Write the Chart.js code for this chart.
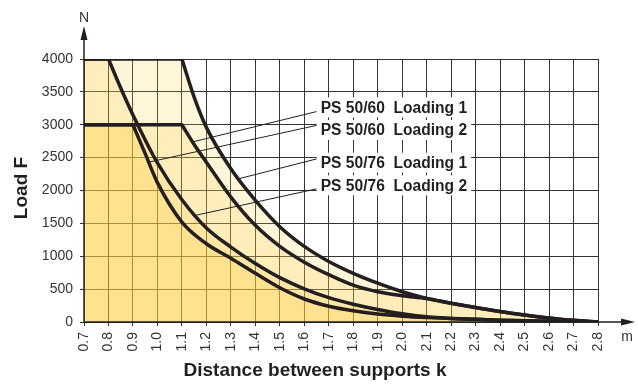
<!DOCTYPE html>
<html>
<head>
<meta charset="utf-8">
<script src="https://cdn.jsdelivr.net/npm/chart.js@4.4.1/dist/chart.umd.min.js"></script>
<style>
  html, body { margin:0; padding:0; background:#fff; }
  #wrap { width:638px; height:384px; }
</style>
</head>
<body>
<div id="wrap"><canvas id="chart" width="638" height="384"></canvas></div>
<script>
// ---- data (k in m, F in N) ----
// each curve: flat part from 0.7 to the corner, then falling
const k5076L1 = [0.7, 1.1, 1.15, 1.2, 1.3, 1.4, 1.5, 1.6, 1.7, 1.8, 1.9, 2.0, 2.1, 2.2, 2.3, 2.4, 2.5, 2.6, 2.7, 2.8];
const F5076L1 = [4000, 4000, 3420, 2960, 2330, 1850, 1450, 1150, 920, 740, 590, 460, 360, 285, 220, 160, 108, 62, 25, 0];

const k5060L1 = [0.7, 1.1, 1.15, 1.2, 1.3, 1.4, 1.5, 1.6, 1.7, 1.8, 1.9, 2.0, 2.1, 2.2, 2.3, 2.4, 2.5, 2.6, 2.7, 2.8];
const F5060L1 = [3000, 3000, 2700, 2430, 1900, 1470, 1150, 910, 720, 560, 460, 400, 358, 285, 220, 160, 108, 62, 25, 0];

const k5076L2 = [0.7, 0.8, 0.85, 0.9, 1.0, 1.1, 1.2, 1.3, 1.4, 1.5, 1.6, 1.7, 1.8, 1.9, 2.0, 2.1, 2.2, 2.3, 2.4, 2.5, 2.6, 2.7, 2.8];
const F5076L2 = [4000, 4000, 3560, 3150, 2420, 1860, 1430, 1140, 890, 675, 505, 370, 270, 190, 125, 80, 55, 40, 28, 18, 10, 4, 0];

const k5060L2 = [0.7, 0.9, 0.95, 1.0, 1.1, 1.2, 1.3, 1.4, 1.5, 1.6, 1.7, 1.8, 1.9, 2.0, 2.1, 2.2, 2.3, 2.4, 2.5, 2.6, 2.7, 2.8];
const F5060L2 = [3000, 3000, 2560, 2120, 1520, 1190, 970, 740, 520, 350, 240, 170, 120, 88, 68, 55, 40, 28, 18, 10, 4, 0];

const seriesNames = ['PS 50/60  Loading 1', 'PS 50/60  Loading 2', 'PS 50/76  Loading 1', 'PS 50/76  Loading 2'];

// ---- label / leader placement (data units) ----
const labelPos  = [[1.667, 3265], [1.667, 2920], [1.667, 2423], [1.667, 2079]];
const leaderFrom = [[1.65, 3200], [1.65, 2990], [1.65, 2480], [1.65, 2025]];
const leaderTo   = [[1.145, 2740], [0.963, 2430], [1.334, 2180], [1.153, 1620]];

const INK = '#231f20';
const FILL = 'rgba(255,205,64,0.2)';

function pts(ks, fs, from, to) {
  const out = [];
  for (let i = from; i < to; i++) out.push({x: ks[i], y: fs[i]});
  return out;
}

// flat part (straight) + curved part (monotone), both filled to zero
function curve(name, ks, fs) {
  return [
    { label: name + ' flat', data: pts(ks, fs, 0, 2), borderColor: INK, borderWidth: 3.5,
      backgroundColor: FILL, fill: 'origin', tension: 0, pointRadius: 0, borderCapStyle: 'round' },
    { label: name, data: pts(ks, fs, 1, ks.length), borderColor: INK, borderWidth: 3.5,
      backgroundColor: FILL, fill: 'origin', cubicInterpolationMode: 'monotone', pointRadius: 0,
      borderJoinStyle: 'round' }
  ];
}

const datasets = [].concat(
  curve(seriesNames[2], k5076L1, F5076L1),
  curve(seriesNames[3], k5076L2, F5076L2),
  curve(seriesNames[0], k5060L1, F5060L1),
  curve(seriesNames[1], k5060L2, F5060L2)
);

// ---- extra drawing: axes with arrows, titles, labels ----
const overlay = {
  id: 'overlay',
  afterDatasetsDraw(chart) {
    const {ctx, scales: {x, y}} = chart;
    ctx.save();
    ctx.font = 'bold 15.6px "Liberation Sans", Arial, sans-serif';
    ctx.textBaseline = 'middle';
    ctx.textAlign = 'left';
    seriesNames.forEach((t, i) => {
      const px = x.getPixelForValue(labelPos[i][0]);
      const py = y.getPixelForValue(labelPos[i][1]);
      const w = ctx.measureText(t).width;
      ctx.fillStyle = '#fff';
      ctx.fillRect(px - 4, py - 10, w + 8, 20);
      ctx.fillStyle = INK;
      ctx.fillText(t, px, py + 1);
      ctx.strokeStyle = INK;
      ctx.lineWidth = 1;
      ctx.beginPath();
      ctx.moveTo(x.getPixelForValue(leaderFrom[i][0]), y.getPixelForValue(leaderFrom[i][1]));
      ctx.lineTo(x.getPixelForValue(leaderTo[i][0]), y.getPixelForValue(leaderTo[i][1]));
      ctx.stroke();
    });
    ctx.restore();
  },
  afterDraw(chart) {
    const {ctx, chartArea: a} = chart;
    ctx.save();
    ctx.strokeStyle = INK;
    ctx.fillStyle = INK;
    ctx.lineWidth = 1.5;
    // y axis
    ctx.beginPath();
    ctx.moveTo(a.left, a.bottom);
    ctx.lineTo(a.left, 38);
    ctx.stroke();
    ctx.beginPath();
    ctx.moveTo(a.left, 26);
    ctx.lineTo(a.left - 3.5, 40);
    ctx.lineTo(a.left + 3.5, 40);
    ctx.closePath();
    ctx.fill();
    // x axis
    ctx.beginPath();
    ctx.moveTo(a.left, a.bottom);
    ctx.lineTo(622, a.bottom);
    ctx.stroke();
    ctx.beginPath();
    ctx.moveTo(635, a.bottom);
    ctx.lineTo(621, a.bottom - 3.5);
    ctx.lineTo(621, a.bottom + 3.5);
    ctx.closePath();
    ctx.fill();

    ctx.fillStyle = '#333';
    ctx.font = '14px "Liberation Sans", Arial, sans-serif';
    ctx.textAlign = 'center';
    ctx.textBaseline = 'middle';
    ctx.fillText('N', a.left, 18);
    ctx.fillText('m', 627, 337);

    ctx.fillStyle = INK;
    ctx.font = 'bold 19px "Liberation Sans", Arial, sans-serif';
    ctx.fillText('Distance between supports k', 315, 371);
    ctx.translate(22, 188);
    ctx.rotate(-Math.PI / 2);
    ctx.fillText('Load F', 0, 0);
    ctx.restore();
  }
};

new Chart(document.getElementById('chart'), {
  type: 'line',
  data: { datasets },
  options: {
    responsive: false,
    animation: false,
    devicePixelRatio: 1,
    layout: { padding: { top: 59, right: 40, bottom: 0, left: 0 } },
    plugins: {
      legend: { display: false },
      tooltip: { enabled: false },
      filler: { drawTime: 'beforeDatasetsDraw' }
    },
    scales: {
      x: {
        type: 'linear', min: 0.7, max: 2.8,
        afterFit: s => { s.height = 62; },
        border: { display: false },
        grid: { color: '#333', lineWidth: 1, tickLength: 4, tickColor: '#333' },
        ticks: {
          stepSize: 0.1, autoSkip: false, minRotation: 90, maxRotation: 90, padding: 6,
          color: '#333', font: { family: '"Liberation Sans", Arial, sans-serif', size: 14 },
          callback: v => v.toFixed(1)
        }
      },
      y: {
        min: 0, max: 4000,
        afterFit: s => { s.width = 84; },
        border: { display: false },
        grid: { color: '#333', lineWidth: 1, tickLength: 4, tickColor: '#333' },
        ticks: {
          stepSize: 500, padding: 7,
          color: '#333', font: { family: '"Liberation Sans", Arial, sans-serif', size: 14 },
          callback: v => String(v)
        }
      }
    }
  },
  plugins: [overlay]
});
</script>
</body>
</html>
